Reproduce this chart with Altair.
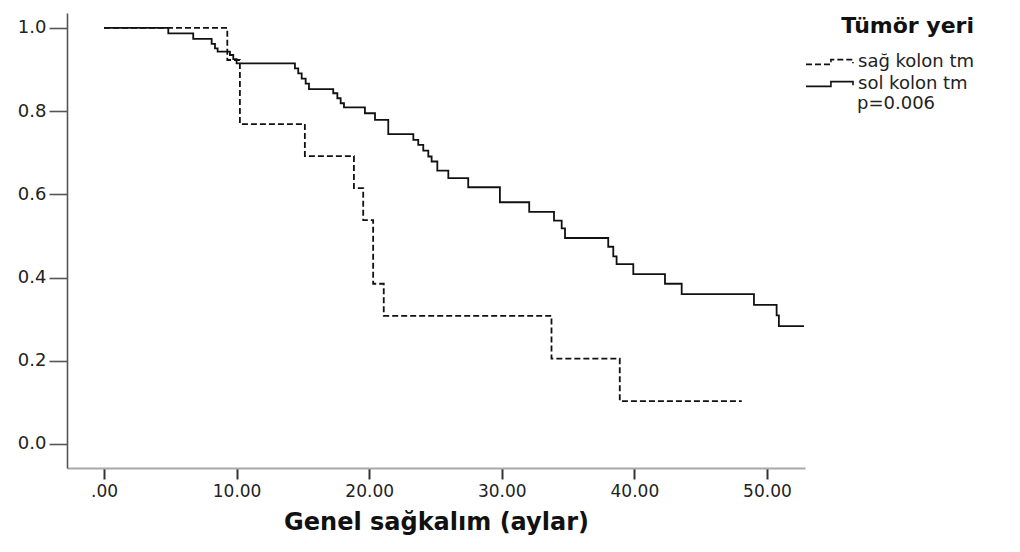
import altair as alt
import pandas as pd

# --- data (Kaplan-Meier step curves) ---
sag_t = [0, 9.3, 10.25, 15.15, 18.85, 19.55, 20.3, 21.1, 33.75, 38.9, 48.1]
sag_s = [1.0, 0.923, 0.769, 0.692, 0.615, 0.538, 0.385, 0.308, 0.205, 0.103, 0.103]

sol_t = [0, 4.85, 6.73, 8.12, 8.37, 8.57, 9.5, 9.75, 10.0,
         14.40, 14.65, 14.91, 15.21, 15.46,
         17.29, 17.6, 17.85, 18.1,
         19.68, 20.44, 21.44,
         23.33, 23.70, 24.08, 24.46, 24.71, 25.14, 25.97, 27.47, 29.86,
         32.07, 33.94, 34.52, 34.77, 38.03, 38.41, 38.66, 39.92,
         42.31, 43.57, 49.02, 50.73, 50.9, 52.8]
sol_s = [1.0, 0.987, 0.974, 0.962, 0.951, 0.943, 0.935, 0.925, 0.915,
         0.903, 0.891, 0.878, 0.866, 0.853,
         0.843, 0.831, 0.819, 0.809,
         0.795, 0.779, 0.745,
         0.731, 0.719, 0.705, 0.691, 0.679, 0.657, 0.639, 0.617, 0.581,
         0.558, 0.537, 0.518, 0.495, 0.474, 0.451, 0.432, 0.408,
         0.385, 0.360, 0.334, 0.309, 0.283, 0.283]

groups = ["sağ kolon tm", "sol kolon tm"]
legend_title = "Tümör yeri"
x_title = "Genel sağkalım (aylar)"
p_text = "p=0.006"
x_ticks = [0, 10, 20, 30, 40, 50]
y_ticks = [0.0, 0.2, 0.4, 0.6, 0.8, 1.0]

df = pd.concat([
    pd.DataFrame({"t": sag_t, "s": sag_s, "g": groups[0], "o": range(len(sag_t))}),
    pd.DataFrame({"t": sol_t, "s": sol_s, "g": groups[1], "o": range(len(sol_t))}),
])

FONT = "DejaVu Sans"

lines = alt.Chart(df).mark_line(
    interpolate="step-after", color="#111111", strokeWidth=1.8
).encode(
    x=alt.X("t:Q",
            scale=alt.Scale(domain=[-2.79, 52.87], nice=False, zero=False),
            axis=alt.Axis(values=x_ticks, title=x_title,
                          labelExpr="datum.value == 0 ? '.00' : format(datum.value, '.2f')",
                          grid=False, domainColor="#a8a8a8", domainWidth=2,
                          tickColor="#333333", tickWidth=2, tickSize=11,
                          labelFont=FONT, labelFontSize=17, labelColor="#222222",
                          labelPadding=4, titleFont=FONT, titleFontSize=24,
                          titleFontWeight="bold", titleColor="#111111",
                          titlePadding=11)),
    y=alt.Y("s:Q",
            scale=alt.Scale(domain=[-0.058, 1.036], nice=False, zero=False),
            axis=alt.Axis(values=y_ticks, format=".1f", title=None, grid=False,
                          domainColor="#555555", domainWidth=1.6,
                          tickColor="#555555", tickWidth=1.6, tickSize=18,
                          labelFont=FONT, labelFontSize=18, labelColor="#222222",
                          labelPadding=3)),
    strokeDash=alt.StrokeDash(
        "g:N",
        scale=alt.Scale(domain=groups, range=[[6, 3], [1, 0]]),
        legend=alt.Legend(
            title=legend_title, orient="none", legendX=738, legendY=3,
            titleFont=FONT, titleFontSize=22, titleFontWeight="bold",
            titleColor="#111111", titleAnchor="end", titlePadding=14,
            labelFont=FONT, labelFontSize=18, labelColor="#222222",
            labelOffset=4, labelLimit=300,
            symbolType="M-1,0.1L0.06,0.1L0.06,-0.1L1,-0.1L1,0.05",
            symbolSize=2209, symbolStrokeColor="#111111",
            symbolStrokeWidth=1.6, symbolFillColor="transparent",
            clipHeight=20, rowPadding=2)),
    order="o:Q",
)

ptxt = alt.Chart(pd.DataFrame({"txt": [p_text]})).mark_text(
    align="left", baseline="middle", font=FONT, fontSize=18, color="#222222"
).encode(x=alt.value(790), y=alt.value(91), text="txt:N")

chart = alt.layer(lines, ptxt).properties(
    width=738, height=455,
    autosize=alt.AutoSizeParams(type="none"),
    padding={"left": 59, "top": 5, "right": 207, "bottom": 70},
).configure_view(stroke=None)

chart.save("out.html", embed_options={"renderer": "svg", "actions": False})
